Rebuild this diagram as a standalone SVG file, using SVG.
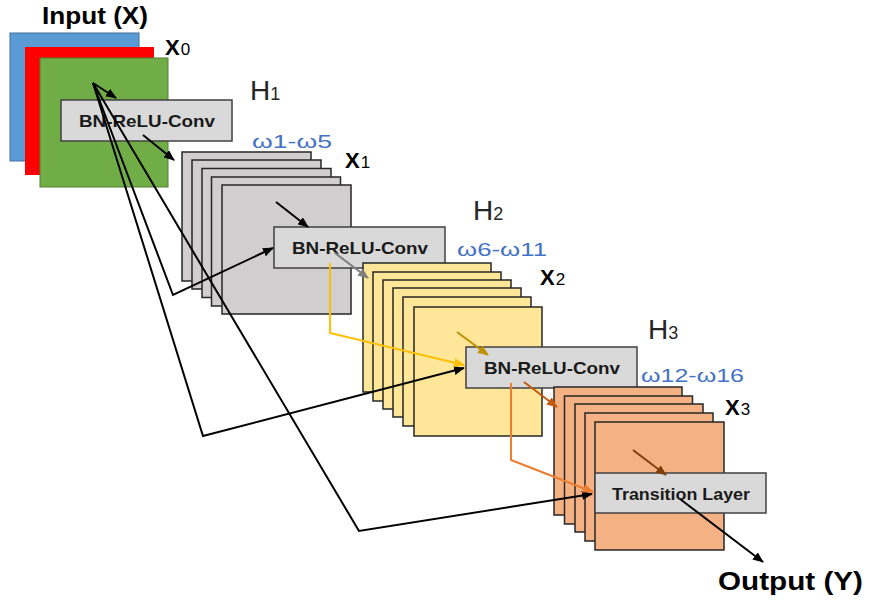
<svg xmlns="http://www.w3.org/2000/svg" width="870" height="605" viewBox="0 0 870 605">
<defs>
<style>
.gray{fill:#d0cece;stroke:#262626;stroke-width:1.5}
.yel{fill:#ffe699;stroke:#262626;stroke-width:1.5}
.org{fill:#f4b183;stroke:#262626;stroke-width:1.5}
.box{fill:#d9d9d9;stroke:#404040;stroke-width:1.5}
.bt{font-family:"Liberation Sans",Arial,sans-serif;font-weight:bold;font-size:17px;fill:#1a1a1a;text-anchor:middle}
.h{font-family:"Liberation Sans",Arial,sans-serif;font-size:28px;fill:#262626}
.hs{font-size:18px}
.w{font-family:"Liberation Sans",Arial,sans-serif;font-size:19px;fill:#4472c4}
.x{font-family:"Liberation Sans",Arial,sans-serif;font-weight:bold;font-size:22px;fill:#000}
.xs{font-weight:normal;font-size:17px}
.big{font-family:"Liberation Sans",Arial,sans-serif;font-weight:bold;fill:#000}
.c{fill:none;stroke-width:2;stroke-linejoin:miter}
</style>
<marker id="aK" markerUnits="userSpaceOnUse" markerWidth="11" markerHeight="9" refX="10" refY="4.5" orient="auto"><path d="M0,0 L11,4.5 L0,9 z" fill="#000"/></marker>
<marker id="aG" markerUnits="userSpaceOnUse" markerWidth="11" markerHeight="9" refX="10" refY="4.5" orient="auto"><path d="M0,0 L11,4.5 L0,9 z" fill="#7f7f7f"/></marker>
<marker id="aY" markerUnits="userSpaceOnUse" markerWidth="11" markerHeight="9" refX="10" refY="4.5" orient="auto"><path d="M0,0 L11,4.5 L0,9 z" fill="#ffc000"/></marker>
<marker id="aD" markerUnits="userSpaceOnUse" markerWidth="11" markerHeight="9" refX="10" refY="4.5" orient="auto"><path d="M0,0 L11,4.5 L0,9 z" fill="#bf9000"/></marker>
<marker id="aR" markerUnits="userSpaceOnUse" markerWidth="11" markerHeight="9" refX="10" refY="4.5" orient="auto"><path d="M0,0 L11,4.5 L0,9 z" fill="#c55a11"/></marker>
<marker id="aO" markerUnits="userSpaceOnUse" markerWidth="11" markerHeight="9" refX="10" refY="4.5" orient="auto"><path d="M0,0 L11,4.5 L0,9 z" fill="#ed7d31"/></marker>
<marker id="aB" markerUnits="userSpaceOnUse" markerWidth="11" markerHeight="9" refX="10" refY="4.5" orient="auto"><path d="M0,0 L11,4.5 L0,9 z" fill="#843c0c"/></marker>
</defs>
<rect width="870" height="605" fill="#fff"/>

<g id="input">
<text class="big" x="42" y="24" font-size="24" textLength="106" lengthAdjust="spacingAndGlyphs">Input (X)</text>
<rect x="10" y="33" width="129" height="128" fill="#5b9bd5" stroke="#41719c"/>
<rect x="25" y="47" width="129" height="128" fill="#ff0000"/>
<rect x="40" y="58" width="128" height="129" fill="#70ad47" stroke="#507e32"/>
<text class="x" x="165" y="55">X<tspan class="xs" dx="1">0</tspan></text>
</g>

<g id="h1">
<rect class="box" x="61" y="100" width="171" height="41"/>
<text class="bt" x="147" y="127" textLength="136" lengthAdjust="spacingAndGlyphs">BN-ReLU-Conv</text>
<text class="h" x="250" y="100">H<tspan class="hs">1</tspan></text>
<text class="w" x="252" y="148" textLength="80" lengthAdjust="spacingAndGlyphs">ω1-ω5</text>
</g>

<g id="x1">
<rect class="gray" x="182" y="152" width="129" height="129"/>
<rect class="gray" x="192" y="160" width="129" height="129"/>
<rect class="gray" x="202" y="168.5" width="129" height="129"/>
<rect class="gray" x="211.5" y="177" width="129" height="129"/>
<rect class="gray" x="222" y="185" width="129" height="129"/>
<text class="x" x="345" y="168">X<tspan class="xs" dx="1">1</tspan></text>
</g>

<g id="h2">
<rect class="box" x="274" y="227" width="171" height="41"/>
<text class="bt" x="360" y="254" textLength="136" lengthAdjust="spacingAndGlyphs">BN-ReLU-Conv</text>
<text class="h" x="473" y="220">H<tspan class="hs">2</tspan></text>
<text class="w" x="457" y="256" textLength="90" lengthAdjust="spacingAndGlyphs">ω6-ω11</text>
</g>

<g id="x2">
<rect class="yel" x="363" y="263" width="128" height="129"/>
<rect class="yel" x="373" y="272" width="128" height="129"/>
<rect class="yel" x="383" y="280" width="128" height="129"/>
<rect class="yel" x="393" y="288" width="128" height="129"/>
<rect class="yel" x="403" y="297" width="128" height="129"/>
<rect class="yel" x="414" y="307" width="128" height="129"/>
<text class="x" x="540" y="285">X<tspan class="xs" dx="1">2</tspan></text>
</g>

<g id="h3">
<rect class="box" x="466" y="347" width="171" height="41"/>
<text class="bt" x="552" y="374" textLength="136" lengthAdjust="spacingAndGlyphs">BN-ReLU-Conv</text>
<text class="h" x="648" y="339">H<tspan class="hs">3</tspan></text>
<text class="w" x="641" y="382" textLength="103" lengthAdjust="spacingAndGlyphs">ω12-ω16</text>
</g>

<g id="x3">
<rect class="org" x="554" y="387" width="128" height="128"/>
<rect class="org" x="564.5" y="396" width="128" height="128"/>
<rect class="org" x="575" y="404" width="128" height="128"/>
<rect class="org" x="585" y="413" width="128" height="128"/>
<rect class="org" x="595" y="422" width="129" height="128"/>
<text class="x" x="725" y="415">X<tspan class="xs" dx="1">3</tspan></text>
</g>

<g id="transition">
<rect class="box" x="595" y="473" width="171" height="40"/>
<text class="bt" x="681" y="500" textLength="138" lengthAdjust="spacingAndGlyphs">Transition Layer</text>
</g>

<g id="output">
<text class="big" x="718" y="590" font-size="26" textLength="145" lengthAdjust="spacingAndGlyphs">Output (Y)</text>
</g>

<g id="connectors">
<path class="c" stroke="#000" d="M93,83 L116,98" marker-end="url(#aK)"/>
<path class="c" stroke="#000" d="M143,135 L174,160" marker-end="url(#aK)"/>
<path class="c" stroke="#000" d="M93,83 L173,295 L273,248" marker-end="url(#aK)"/>
<path class="c" stroke="#000" d="M93,83 L203,436 L464,368" marker-end="url(#aK)"/>
<path class="c" stroke="#000" d="M93,83 L359,531 L592,494" marker-end="url(#aK)"/>
<path class="c" stroke="#000" d="M276,202 L308,227" marker-end="url(#aK)"/>
<path class="c" stroke="#7f7f7f" d="M335,253 L368,278" marker-end="url(#aG)"/>
<path class="c" stroke="#ffc000" d="M330,263 L330,333 L464,365" marker-end="url(#aY)"/>
<path class="c" stroke="#bf9000" d="M457,332 L488,355" marker-end="url(#aD)"/>
<path class="c" stroke="#c55a11" d="M524,382 L557,407" marker-end="url(#aR)"/>
<path class="c" stroke="#ed7d31" d="M511,383 L511,460 L593,492" marker-end="url(#aO)"/>
<path class="c" stroke="#843c0c" d="M633,450 L666,475" marker-end="url(#aB)"/>
<path class="c" stroke="#000" d="M680,499 L763,562" marker-end="url(#aK)"/>
</g>
</svg>
